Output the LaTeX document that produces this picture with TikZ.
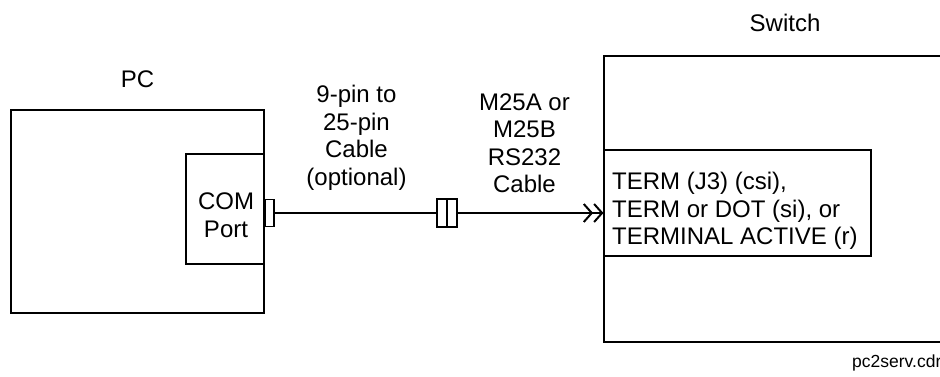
\documentclass[tikz,border=0pt]{standalone}
\usepackage{fontspec}
\setmainfont{Liberation Sans}
\usepackage{tikz}
\usetikzlibrary{positioning, arrows.meta}

\tikzset{
  box/.style={draw, line width=1.1pt, inner sep=0pt},
  lbl/.style={font=\fontsize{24}{27.5}\selectfont, inner sep=0pt},
  cable/.style={line width=1.1pt}
}

\begin{document}
\begin{tikzpicture}[x=1pt, y=-1pt]
        \useasboundingbox (0,0) rectangle (940,377);
        \clip (0,0) rectangle (940,377);

        % PC with its COM port
        \node[box, minimum width=253, minimum height=203] (pc) at (137.5,211.5) {};
        \node[lbl, anchor=base] (pclbl) at (137.5,88) {PC};
        \node[box, minimum width=78, minimum height=110] (comport) at (225,209) {};
        \node[lbl, align=center] (comlbl) at (226,215) {COM\\Port};
        \node[box, minimum width=9, minimum height=27] (plug) at (269.5,213) {};

        % Switch with the terminal port
        \node[box, minimum width=360, minimum height=286] (switch) at (784,199) {};
        \node[lbl, anchor=base] (swlbl) at (785,32) {Switch};
        \node[box, minimum width=267, minimum height=106] (term) at (737.5,203) {};
        \node[lbl, align=left, anchor=west] (termlbl) at (612,211)
          {TERM (J3) (csi),\\TERM or DOT (si), or\\TERMINAL ACTIVE (r)};

        % Cables
        \node[box, minimum width=20, minimum height=28] (joint) at (447,213) {};
        \draw[cable] (joint.north) -- (joint.south);
        \draw[cable] (plug.east) -- (joint.west);
        \draw[cable, -{Straight Barb[length=8pt, width=18pt, line width=2pt, sep=0pt] Straight Barb[length=8pt, width=18pt, line width=2pt]}]
          (joint.east) -- (joint.east -| term.west);
        \node[lbl, align=center] (cable1) at (356.5,138) {9-pin to\\25-pin\\Cable\\(optional)};
        \node[lbl, align=center] (cable2) at (524.5,143) {M25A or\\M25B\\RS232\\Cable};

        \node[font=\fontsize{17.5}{19}\selectfont, inner sep=0pt, anchor=base west] (fname) at (852,367) {pc2serv.cdr};
      \end{tikzpicture}
\end{document}
